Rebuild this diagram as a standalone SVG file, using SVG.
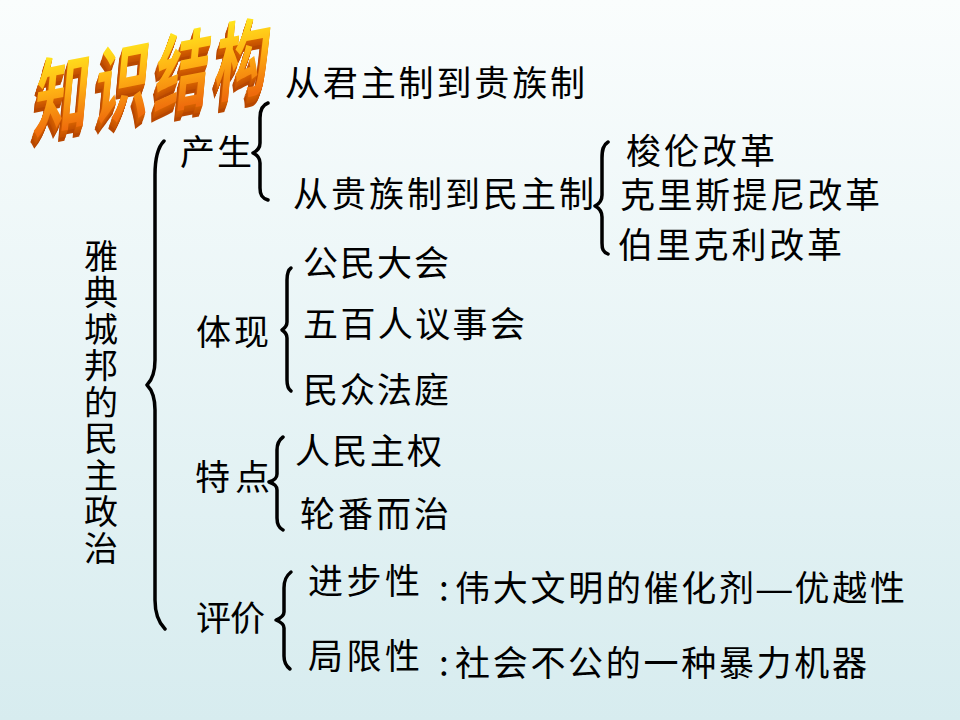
<svg xmlns="http://www.w3.org/2000/svg" width="960" height="720" viewBox="0 0 960 720">
<defs>
<linearGradient id="bg" x1="0" y1="0" x2="0" y2="1">
<stop offset="0" stop-color="#FAFDFD"/>
<stop offset="1" stop-color="#D7ECEF"/>
</linearGradient>
<linearGradient id="face" gradientUnits="userSpaceOnUse" x1="0" y1="-58" x2="0" y2="4">
<stop offset="0" stop-color="#FFE81E"/>
<stop offset="0.45" stop-color="#FFB414"/>
<stop offset="1" stop-color="#EE6A0C"/>
</linearGradient>
<style>
.t{font-family:"Noto Sans CJK SC","Noto Sans CJK JP",sans-serif;font-size:35px;fill:#000;}
.v{font-family:"Noto Sans CJK SC","Noto Sans CJK JP",sans-serif;font-size:34px;fill:#000;writing-mode:tb;letter-spacing:2.5px;}
.b{fill:none;stroke:#000;stroke-width:3.5;stroke-linecap:round;stroke-linejoin:round;}
.ti{font-family:"Noto Sans CJK SC","Noto Sans CJK JP",sans-serif;font-size:66px;font-weight:bold;letter-spacing:6px;}
.ex{fill:#B84800;}
.dash{font-family:"Liberation Sans",sans-serif;}
</style>
</defs>
<rect width="960" height="720" fill="url(#bg)"/>

<g id="title" transform="matrix(0.835,-0.162,-0.12,1.3,30,132)">
<text class="ti ex" x="0" y="8">知识结构</text>
<text class="ti ex" x="0.4" y="7">知识结构</text>
<text class="ti ex" x="0.8" y="6">知识结构</text>
<text class="ti" x="1.2" y="5" style="fill:#C45200">知识结构</text>
<text class="ti" x="1.6" y="4" style="fill:#C85400">知识结构</text>
<text class="ti" x="2" y="3" style="fill:#CC5800">知识结构</text>
<text class="ti" x="2.4" y="2" style="fill:#D05C00">知识结构</text>
<text class="ti" x="2.8" y="1" style="fill:#D46000">知识结构</text>
<text class="ti" x="3" y="0" fill="url(#face)">知识结构</text>
</g>

<g id="connectors">
<path class="b" d="M164,141 C157,148 155,160 155,175 L155,360 C155,372 152,380 147,385 C152,390 155,398 155,410 L155,600 C155,612 158,622 165,629"/>
<path class="b" d="M268,103 C262,105 260,110 260,118 L260,143 C260,148 257,151 253,153 C257,155 260,158 260,163 L260,188 C260,195 262,198 268,200"/>
<path class="b" d="M608,142 C603,145 602,150 602,158 L602,195 C602,200 599,204 595,206 C599,208 602,212 602,217 L602,243 C602,249 603,252 608,254"/>
<path class="b" d="M291,268 C288,270 287,274 287,280 L287,322 C287,326 285,328 282,330 C285,332 287,334 287,338 L287,380 C287,386 288,389 291,391"/>
<path class="b" d="M283,437 C279,440 277,444 277,450 L277,474 C277,478 275,480 269,482 C275,484 277,486 277,490 L277,518 C277,524 279,528 283,530"/>
<path class="b" d="M291,572 C286,576 284,580 284,588 L284,612 C284,616 281,618 276,620 C281,622 284,624 284,628 L284,656 C284,663 286,666 290,669"/>
</g>

<g id="root">
<text class="v" x="101" y="239">雅典城邦的民主政治</text>
</g>

<g id="chansheng"><text class="t" x="180" y="165" textLength="72" lengthAdjust="spacing">产生</text></g>
<g id="junzhu"><text class="t" x="285" y="96" textLength="300" lengthAdjust="spacing">从君主制到贵族制</text></g>
<g id="guizu"><text class="t" x="293" y="207" textLength="301" lengthAdjust="spacing">从贵族制到民主制</text></g>
<g id="solon"><text class="t" x="626" y="164" textLength="149" lengthAdjust="spacing">梭伦改革</text></g>
<g id="cleisthenes"><text class="t" x="620" y="208" textLength="260" lengthAdjust="spacing">克里斯提尼改革</text></g>
<g id="pericles"><text class="t" x="618" y="258" textLength="224" lengthAdjust="spacing">伯里克利改革</text></g>

<g id="tixian"><text class="t" x="196" y="345" textLength="73" lengthAdjust="spacing">体现</text></g>
<g id="assembly"><text class="t" x="303" y="276" textLength="146" lengthAdjust="spacing">公民大会</text></g>
<g id="council"><text class="t" x="303" y="337" textLength="222" lengthAdjust="spacing">五百人议事会</text></g>
<g id="court"><text class="t" x="303" y="403" textLength="146" lengthAdjust="spacing">民众法庭</text></g>

<g id="tedian"><text class="t" x="195" y="490" textLength="75" lengthAdjust="spacing">特点</text></g>
<g id="sovereignty"><text class="t" x="295" y="464" textLength="147" lengthAdjust="spacing">人民主权</text></g>
<g id="rotation"><text class="t" x="300" y="527" textLength="149" lengthAdjust="spacing">轮番而治</text></g>

<g id="pingjia"><text class="t" x="196" y="631" textLength="69" lengthAdjust="spacing">评价</text></g>
<g id="progress">
<text class="t" x="308" y="594" textLength="112" lengthAdjust="spacing">进步性</text>
<text class="t" x="439" y="601">:</text>
<text class="t" x="455" y="601" textLength="450" lengthAdjust="spacing">伟大文明的催化剂<tspan class="dash">—</tspan>优越性</text>
</g>
<g id="limit">
<text class="t" x="308" y="669" textLength="112" lengthAdjust="spacing">局限性</text>
<text class="t" x="439" y="676">:</text>
<text class="t" x="455" y="676" textLength="412" lengthAdjust="spacing">社会不公的一种暴力机器</text>
</g>
</svg>
